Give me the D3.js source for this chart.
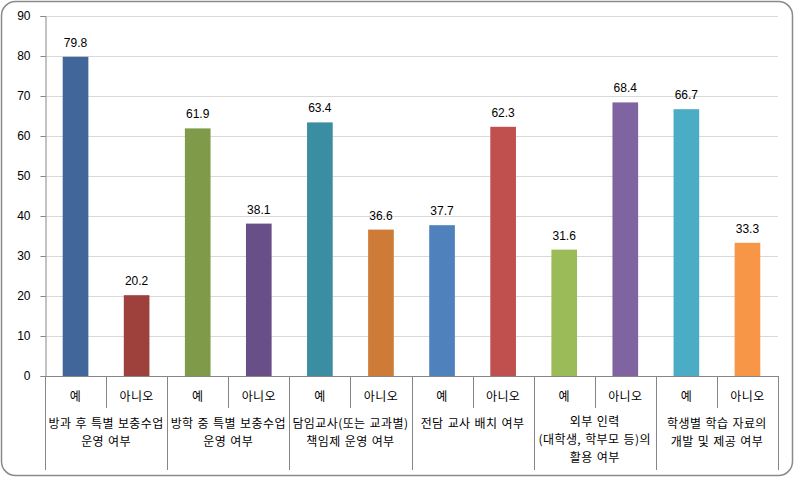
<!DOCTYPE html>
<html><head><meta charset="utf-8">
<script src="https://cdn.jsdelivr.net/npm/d3@7"></script>
<style>
html,body{margin:0;padding:0;background:#fff;}
text{font-family:"Liberation Sans","Noto Sans CJK KR",sans-serif;font-size:12px;fill:#000;}
text.kr{font-family:"Noto Sans CJK KR",sans-serif;font-size:12px;letter-spacing:0.4px;word-spacing:1px;}
</style></head>
<body>
<svg id="chart" width="795" height="478"></svg>
<script>
const groups = [
  ["방과 후 특별 보충수업", "운영 여부"],
  ["방학 중 특별 보충수업", "운영 여부"],
  ["담임교사(또는 교과별)", "책임제 운영 여부"],
  ["전담 교사 배치 여부"],
  ["외부 인력", "(대학생, 학부모 등)의", "활용 여부"],
  ["학생별 학습 자료의", "개발 및 제공 여부"]
];
const subLabels = ["예", "아니오"];
const values = [79.8, 20.2, 61.9, 38.1, 63.4, 36.6, 37.7, 62.3, 31.6, 68.4, 66.7, 33.3];
const colors = ["#41679A", "#9E403C", "#7F9A48", "#694F87", "#3B8DA2", "#CD7B37",
                "#4F81BD", "#C0504D", "#9BBB59", "#8064A2", "#4BACC6", "#F79646"];
const yTicks = [0, 10, 20, 30, 40, 50, 60, 70, 80, 90];

(function () {
const svg = d3.select("#chart");
const pL = 45, pR = 778, pT = 16, pB = 376;

// border
svg.append("rect").attr("x", 1.5).attr("y", 1.5).attr("width", 791).attr("height", 474)
  .attr("rx", 14).attr("ry", 14).attr("fill", "#fff").attr("stroke", "#8a8a8a").attr("stroke-width", 1.5);

const items = [];
groups.forEach((g, gi) => subLabels.forEach((s, si) => items.push({key: gi + "-" + si, gi, si, sub: s, v: values[gi * 2 + si], c: colors[gi * 2 + si]})));

const x = d3.scaleBand().domain(items.map(d => d.key)).range([pL, pR]).paddingInner(0.58).paddingOuter(0.29);
const y = d3.scaleLinear().domain([0, 90]).range([pB, pT]);

// gridlines
svg.append("g").selectAll("line").data(yTicks.filter(t => t > 0)).join("line")
  .attr("x1", pL).attr("x2", pR).attr("y1", d => Math.round(y(d)) + 0.5).attr("y2", d => Math.round(y(d)) + 0.5)
  .attr("stroke", "#d9d9d9").attr("stroke-width", 1);

// y axis
const yAxis = d3.axisLeft(y).tickValues(yTicks).tickSize(5).tickPadding(10).tickFormat(d3.format("d"));
const ya = svg.append("g").attr("transform", `translate(${pL + 0.5},0)`).call(yAxis);
ya.select(".domain").attr("stroke", "#868686");
ya.selectAll(".tick line").attr("stroke", "#868686");
ya.selectAll(".tick text").style("font-size", "12px").style("font-family", "Liberation Sans, sans-serif").attr("fill", "#000");
ya.selectAll(".tick").attr("transform", d => `translate(0,${Math.round(y(d)) + 0.5})`);

// bars
svg.append("g").selectAll("rect").data(items).join("rect")
  .attr("x", d => x(d.key)).attr("width", x.bandwidth())
  .attr("y", d => y(d.v)).attr("height", d => y(0) - y(d.v)).attr("fill", d => d.c);

// value labels
svg.append("g").selectAll("text").data(items).join("text")
  .attr("x", d => x(d.key) + x.bandwidth() / 2).attr("y", d => y(d.v) - 10)
  .attr("text-anchor", "middle").text(d => d.v.toFixed(1));

// x axis line
svg.append("line").attr("x1", pL).attr("x2", pR).attr("y1", pB + 0.5).attr("y2", pB + 0.5).attr("stroke", "#868686");

// separators
const boundary = i => pL + i * (pR - pL) / items.length;
const sep = svg.append("g").attr("stroke", "#868686");
for (let i = 0; i <= items.length; i++) {
  const xx = Math.round(boundary(i)) + 0.5;
  const y2 = (i % 2 === 0) ? 470 : 408;
  sep.append("line").attr("x1", xx).attr("x2", xx).attr("y1", pB).attr("y2", y2);
}

// sub labels
svg.append("g").selectAll("text").data(items).join("text").attr("class", "kr")
  .attr("x", d => x(d.key) + x.bandwidth() / 2).attr("y", 401)
  .attr("text-anchor", "middle").text(d => d.sub);

// group labels
groups.forEach((g, gi) => {
  const cx = (boundary(gi * 2) + boundary(gi * 2 + 2)) / 2;
  const y0 = g.length === 3 ? 426 : 428;
  const t = svg.append("text").attr("class", "kr").attr("x", cx).attr("y", y0).attr("text-anchor", "middle");
  g.forEach((line, li) => {
    t.append("tspan").attr("x", cx).attr("dy", li === 0 ? 0 : 18).text(line);
  });
});
})();
</script>
</body></html>
